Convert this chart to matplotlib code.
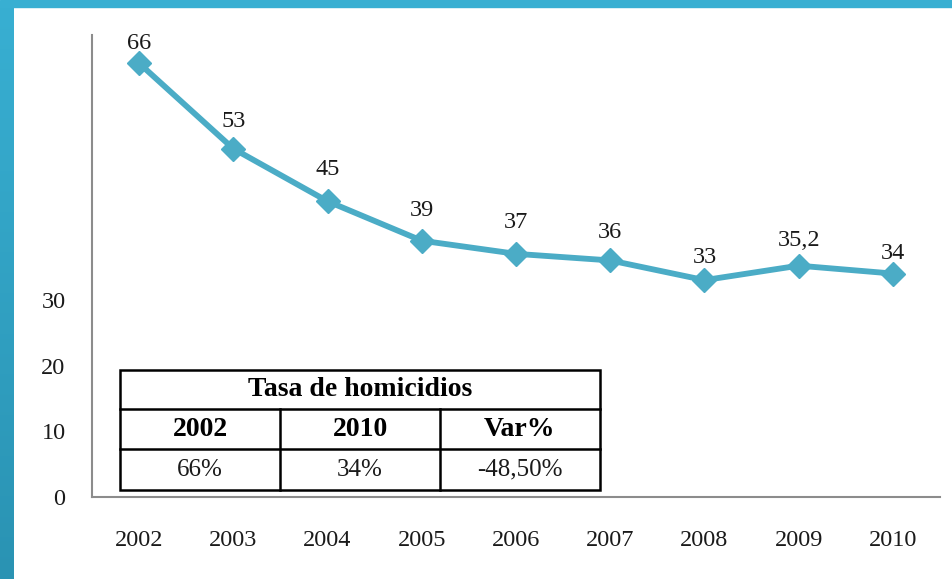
import numpy as np
import matplotlib.pyplot as plt
from matplotlib.patches import Rectangle
from matplotlib.colors import LinearSegmentedColormap

# data
years = ['2002', '2003', '2004', '2005', '2006', '2007', '2008', '2009', '2010']
tasa = [66, 53, 45, 39, 37, 36, 33, 35.2, 34]
labels = ['66', '53', '45', '39', '37', '36', '33', '35,2', '34']

table_title = 'Tasa de homicidios'
table_head = ['2002', '2010', 'Var%']
table_vals = ['66%', '34%', '-48,50%']

# label distance above each marker (pixels), as placed in the original
label_dy = [20, 27, 32, 30, 31, 28, 23, 25, 20]

plt.rcParams['font.family'] = ['Liberation Serif', 'DejaVu Serif']

fig = plt.figure(figsize=(9.52, 5.79), dpi=100)
W, H = 952., 579.

# blue frame: top band and left band with gradient
fig.patches.append(Rectangle((0, 1 - 7 / H), 1, 7 / H, transform=fig.transFigure,
                             color='#38afd2', zorder=0))
bar = fig.add_axes([0, 0, 14 / W, 1 - 7 / H])
grad = np.linspace(0, 1, 256).reshape(-1, 1)
cm = LinearSegmentedColormap.from_list('b', ['#38afd2', '#2a93b3'])
bar.imshow(grad, aspect='auto', cmap=cm, extent=[0, 1, 0, 1], origin='upper')
bar.axis('off')

ax = fig.add_axes([92 / W, 1 - 497 / H, 848 / W, 462 / H])
x = np.arange(len(years))
ax.plot(x, tasa, color='#4bacc6', lw=4.2, marker='D', ms=12, solid_joinstyle='miter')
for xi, yi, lb, dy in zip(x, tasa, labels, label_dy):
    ax.annotate(lb, (xi, yi), xytext=(0, dy * 0.72), textcoords='offset points',
                ha='center', va='center', fontsize=17.5, color='#1a1a1a')

ax.set_xlim(-0.5, len(years) - 0.5)
ax.set_ylim(0, 70.3)
ax.set_xticks(x)
ax.set_xticklabels(years)
ax.set_yticks([0, 10, 20, 30])
ax.tick_params(axis='x', length=0, pad=24, labelsize=17.5, colors='#1a1a1a')
ax.tick_params(axis='y', length=0, pad=19, labelsize=17.5, colors='#1a1a1a')
for s in ['top', 'right']:
    ax.spines[s].set_visible(False)
for s in ['left', 'bottom']:
    ax.spines[s].set_color('#8c8c8c')
    ax.spines[s].set_linewidth(1.5)

# small table inside the plot (axes coordinates)
tx0 = (120 - 92) / 848.
tw = 480 / 848.
ty = [(497 - 490) / 462., (497 - 449) / 462., (497 - 409) / 462., (497 - 370) / 462.]
ax.add_patch(Rectangle((tx0, ty[0]), tw, ty[3] - ty[0], transform=ax.transAxes,
                       facecolor='white', edgecolor='black', lw=1.8, zorder=5))
for yy in ty[1:3]:
    ax.plot([tx0, tx0 + tw], [yy, yy], transform=ax.transAxes, color='black', lw=1.8, zorder=6)
for i in [1, 2]:
    xx = tx0 + tw * i / 3
    ax.plot([xx, xx], [ty[0], ty[2]], transform=ax.transAxes, color='black', lw=1.8, zorder=6)
ax.text(tx0 + tw / 2, (ty[2] + ty[3]) / 2, table_title, transform=ax.transAxes,
        ha='center', va='center', fontsize=20, fontweight='bold', zorder=7)
for i in range(3):
    cx = tx0 + tw * (i + 0.5) / 3
    ax.text(cx, (ty[1] + ty[2]) / 2, table_head[i], transform=ax.transAxes,
            ha='center', va='center', fontsize=20, fontweight='bold', zorder=7)
    ax.text(cx, (ty[0] + ty[1]) / 2, table_vals[i], transform=ax.transAxes,
            ha='center', va='center', fontsize=18, color='#1a1a1a', zorder=7)

fig.savefig('out.png', dpi=100)
